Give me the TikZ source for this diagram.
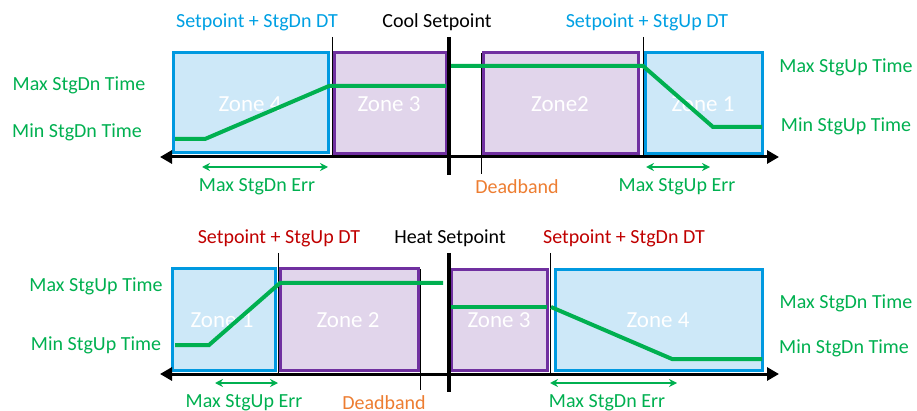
\documentclass[tikz,border=0pt]{standalone}
\usepackage{fontspec}
\setmainfont{Carlito}
\usetikzlibrary{arrows.meta}
\definecolor{lblue}{HTML}{00A0E3}
\definecolor{bborder}{HTML}{0099E0}
\definecolor{bfill}{HTML}{CDE8F8}
\definecolor{pborder}{HTML}{7030A0}
\definecolor{pfill}{HTML}{E1D5EB}
\definecolor{ggreen}{HTML}{00B050}
\definecolor{rred}{HTML}{C00000}
\definecolor{oorange}{HTML}{ED7D31}
\tikzset{
  lbl/.style={font=\fontsize{20}{22}\selectfont, inner sep=0pt},
  zonelbl/.style={font=\fontsize{23}{25}\selectfont, text=white, inner sep=0pt},
  bluebox/.style={draw=bborder, fill=bfill, line width=3pt},
  purplebox/.style={draw=pborder, fill=pfill, line width=3pt},
  gline/.style={draw=ggreen, line width=4pt},
  axis/.style={line width=3pt, {Triangle[length=12pt,width=13pt]}-{Triangle[length=12pt,width=13pt]}},
  spline/.style={line width=4pt},
  thinline/.style={line width=1pt},
  errarrow/.style={draw=ggreen, line width=1.5pt, {Stealth[length=8pt,width=8pt]}-{Stealth[length=8pt,width=8pt]}}
}
\begin{document}
\begin{tikzpicture}[x=1pt,y=-1pt]
\useasboundingbox (0,0) rectangle (917,411);
% ---------- TOP ----------
\draw[bluebox] (173,53) rectangle (328,153);
\draw[purplebox] (334,53) rectangle (446,154);
\draw[purplebox] (483,53) rectangle (638,154);
\draw[bluebox] (645,53) rectangle (762,154);
\node[zonelbl] (tz4) at (250,104) {Zone 4};
\node[zonelbl] (tz3) at (389,104) {Zone 3};
\node[zonelbl] (tz2) at (560,104) {Zone2};
\node[zonelbl] (tz1) at (703,104) {Zone 1};
\coordinate (ta1) at (160,157);
\coordinate (ta2) at (779,157);
\draw[axis] (ta1) -- (ta2);
\coordinate (tcs1) at (449,37); \coordinate (tcs2) at (449,175);
\draw[spline] (tcs1) -- (tcs2);
\coordinate (tdn1) at (332,37); \coordinate (tdn2) at (332,156);
\draw[thinline] (tdn1) -- (tdn2);
\coordinate (tup1) at (643,37); \coordinate (tup2) at (643,156);
\draw[thinline] (tup1) -- (tup2);
\coordinate (tdb1) at (481,53); \coordinate (tdb2) at (481,174);
\draw[thinline] (tdb1) -- (tdb2);
\coordinate (tg1) at (175,139); \coordinate (tg2) at (205,139);
\coordinate (tg3) at (329,86); \coordinate (tg4) at (446,86);
\draw[gline] (tg1) -- (tg2) -- (tg3) -- (tg4);
\coordinate (tg5) at (451,66); \coordinate (tg6) at (643,66);
\coordinate (tg7) at (713,127); \coordinate (tg8) at (762,127);
\draw[gline] (tg5) -- (tg6) -- (tg7) -- (tg8);
\node[lbl, text=lblue] (tl1) at (257,22) {Setpoint + StgDn DT};
\node[lbl] (tl2) at (437,22) {Cool Setpoint};
\node[lbl, text=lblue] (tl3) at (647,22) {Setpoint + StgUp DT};
\node[lbl, text=ggreen] (tl4) at (79,85) {Max StgDn Time};
\node[lbl, text=ggreen] (tl5) at (77,132) {Min StgDn Time};
\node[lbl, text=ggreen] (tl6) at (846,67) {Max StgUp Time};
\node[lbl, text=ggreen] (tl7) at (846,126) {Min StgUp Time};
\coordinate (te1) at (202,167); \coordinate (te2) at (328,167);
\draw[errarrow] (te1) -- (te2);
\coordinate (te3) at (646,167); \coordinate (te4) at (710,167);
\draw[errarrow] (te3) -- (te4);
\node[lbl, text=ggreen] (tl8) at (257,187) {Max StgDn Err};
\node[lbl, text=oorange] (tl9) at (517,187) {Deadband};
\node[lbl, text=ggreen] (tl10) at (677,187) {Max StgUp Err};
% ---------- BOTTOM ----------
\draw[bluebox] (172,269) rectangle (275,370);
\draw[purplebox] (280,269) rectangle (418,370);
\draw[purplebox] (451,270) rectangle (547,370);
\draw[bluebox] (555,270) rectangle (762,370);
\node[zonelbl] (bz1) at (222,320) {Zone 1};
\node[zonelbl] (bz2) at (348,320) {Zone 2};
\node[zonelbl] (bz3) at (499,320) {Zone 3};
\node[zonelbl] (bz4) at (658,320) {Zone 4};
\coordinate (ba1) at (160,374);
\coordinate (ba2) at (779,374);
\draw[axis] (ba1) -- (ba2);
\coordinate (bhs1) at (449,253); \coordinate (bhs2) at (449,392);
\draw[spline] (bhs1) -- (bhs2);
\coordinate (bup1) at (278,253); \coordinate (bup2) at (278,373);
\draw[thinline] (bup1) -- (bup2);
\coordinate (bdn1) at (550,253); \coordinate (bdn2) at (550,373);
\draw[thinline] (bdn1) -- (bdn2);
\coordinate (bdb1) at (420,269); \coordinate (bdb2) at (420,390);
\draw[thinline] (bdb1) -- (bdb2);
\coordinate (bg1) at (175,345); \coordinate (bg2) at (209,345);
\coordinate (bg3) at (280,283); \coordinate (bg4) at (443,283);
\draw[gline] (bg1) -- (bg2) -- (bg3) -- (bg4);
\coordinate (bg5) at (451,307); \coordinate (bg6) at (547,307);
\draw[gline] (bg5) -- (bg6);
\coordinate (bg7) at (551,307); \coordinate (bg8) at (672,359);
\coordinate (bg9) at (762,359);
\draw[gline] (bg7) -- (bg8) -- (bg9);
\node[lbl, text=rred] (bl1) at (279,238) {Setpoint + StgUp DT};
\node[lbl] (bl2) at (450,238) {Heat Setpoint};
\node[lbl, text=rred] (bl3) at (624,238) {Setpoint + StgDn DT};
\node[lbl, text=ggreen] (bl4) at (96,286) {Max StgUp Time};
\node[lbl, text=ggreen] (bl5) at (96,345) {Min StgUp Time};
\node[lbl, text=ggreen] (bl6) at (846,303) {Max StgDn Time};
\node[lbl, text=ggreen] (bl7) at (844,348) {Min StgDn Time};
\coordinate (be1) at (215,383); \coordinate (be2) at (278,383);
\draw[errarrow] (be1) -- (be2);
\coordinate (be3) at (550,383); \coordinate (be4) at (677,383);
\draw[errarrow] (be3) -- (be4);
\node[lbl, text=ggreen] (bl8) at (244,403) {Max StgUp Err};
\node[lbl, text=oorange] (bl9) at (384,403) {Deadband};
\node[lbl, text=ggreen] (bl10) at (607,403) {Max StgDn Err};
\end{tikzpicture}
\end{document}
